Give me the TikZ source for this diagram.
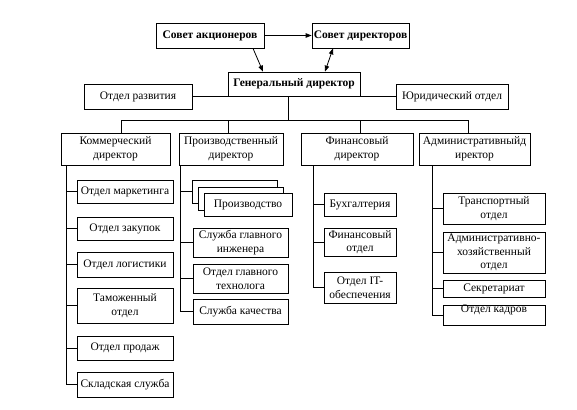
\documentclass[tikz,border=0pt]{standalone}
\usepackage{fontspec}
\setmainfont{Liberation Serif}
\usetikzlibrary{arrows.meta,calc}
\begin{document}
\begin{tikzpicture}[x=1pt,y=-1pt, line width=0.8pt,
 box/.style={draw,fill=white,inner sep=0pt,align=center,font=\fontsize{11.5}{13.5}\selectfont},
 bbox/.style={box,font=\fontsize{11.5}{13.5}\selectfont\bfseries},
 arr/.style={-{Triangle[length=6pt,width=4.5pt]}},
 darr/.style={{Triangle[length=6pt,width=4.5pt]}-{Triangle[length=6pt,width=4.5pt]}}
]
\fill[white] (0,0) rectangle (577,409);
\useasboundingbox (0,0) rectangle (577,409);

% top level
\node[bbox,minimum width=108pt,minimum height=25pt] (sa) at (210,35.5) {Совет акционеров};
\node[bbox,minimum width=97pt,minimum height=25pt] (sd) at (360.5,35.5) {Совет директоров};
\node[bbox,minimum width=132pt,minimum height=24pt] (gd) at (294,84) {Генеральный директор};
\node[box,minimum width=108pt,minimum height=25pt] (razv) at (138,96.5) {Отдел развития};
\node[box,minimum width=112pt,minimum height=25pt] (yur) at (452,96.5) {Юридический отдел};

\draw[arr] (sa.east) -- (sd.west);
\draw[arr] ([xshift=43pt]sa.south) -- ([xshift=-31pt]gd.north);
\draw[darr] ([xshift=-27.5pt]sd.south) -- ([xshift=31pt]gd.north);
\draw (razv.east) -- (yur.west);

% directors
\node[box,minimum width=109pt,minimum height=32pt] (kom) at (115.5,149) {Коммерческий\\директор};
\node[box,minimum width=104pt,minimum height=32pt] (pro) at (231,149) {Производственный\\директор};
\node[box,minimum width=112pt,minimum height=32pt] (fin) at (357,149) {Финансовый\\директор};
\node[box,minimum width=111pt,minimum height=32pt] (adm) at (474.5,149) {Административныйд\\иректор};

\coordinate (bus) at (288,120);
\coordinate (bk) at (121,120);
\coordinate (bp) at (228,120);
\coordinate (bf) at (360,120);
\coordinate (ba) at (468,120);
\draw (gd.south -| bus) -- (bus);
\draw (bk) -- (ba);
\draw (bk) -- (bk |- kom.north);
\draw (bp) -- (bp |- pro.north);
\draw (bf) -- (bf |- fin.north);
\draw (ba) -- (ba |- adm.north);

% commercial
\node[box,minimum width=96pt,minimum height=23pt] (mark) at (125,191.5) {Отдел маркетинга};
\node[box,minimum width=96pt,minimum height=23pt] (zak) at (125,228.5) {Отдел закупок};
\node[box,minimum width=96pt,minimum height=25pt] (log) at (125,264.5) {Отдел логистики};
\node[box,minimum width=96pt,minimum height=35pt] (tam) at (125,305.5) {Таможенный\\отдел};
\node[box,minimum width=96pt,minimum height=24pt] (prd) at (125,348) {Отдел продаж};
\node[box,minimum width=96pt,minimum height=25pt] (skl) at (125,384.5) {Складская служба};
\coordinate (kv) at (66,165);
\draw (kv) -- (kv |- skl.west);
\foreach \n in {mark,zak,log,tam,prd,skl} \draw (kv |- \n.west) -- (\n.west);

% production
\draw[fill=white] (192,180) rectangle (277,203) coordinate (pbse);
\node[draw,fill=white,inner sep=0pt,minimum width=85pt,minimum height=23pt] (pb) at (234.5,191.5) {};
\node[draw,fill=white,inner sep=0pt,minimum width=85pt,minimum height=23pt] (pm) at (240.5,198.5) {};
\node[box,minimum width=88pt,minimum height=23pt] (pf) at (248,204.5) {Производство};
\node[box,minimum width=95pt,minimum height=29pt] (sgi) at (240.5,242.5) {Служба главного\\инженера};
\node[box,minimum width=95pt,minimum height=29pt] (ogt) at (240.5,278.5) {Отдел главного\\технолога};
\node[box,minimum width=95pt,minimum height=25pt] (skc) at (240.5,311.5) {Служба качества};
\coordinate (pv) at (180,165);
\draw (pv) -- (pv |- skc.west);
\foreach \n in {pb,sgi,ogt,skc} \draw (pv |- \n.west) -- (\n.west);

% finance
\node[box,minimum width=72pt,minimum height=23pt] (buh) at (360,204.5) {Бухгалтерия};
\node[box,minimum width=72pt,minimum height=28pt] (fo) at (360,242) {Финансовый\\отдел};
\node[box,minimum width=72pt,minimum height=31pt] (it) at (360,287.5) {Отдел IT-\\обеспечения};
\coordinate (fv) at (313,165);
\draw (fv) -- (fv |- it.west);
\foreach \n in {buh,fo,it} \draw (fv |- \n.west) -- (\n.west);

% administrative
\node[box,minimum width=102pt,minimum height=31pt] (tr) at (494,208.5) {Транспортный\\отдел};
\node[box,minimum width=102pt,minimum height=41pt] (aho) at (494,252.5) {Административно-\\хозяйственный\\отдел};
\node[box,minimum width=102pt,minimum height=17pt] (sec) at (494,288.5) {Секретариат};
\node[box,minimum width=102pt,minimum height=20pt,text height=6pt,text depth=12pt] (kad) at (494,315) {Отдел кадров};
\coordinate (av) at (432,165);
\draw (av) -- (av |- kad.west);
\foreach \n in {tr,aho,sec,kad} \draw (av |- \n.west) -- (\n.west);
\end{tikzpicture}
\end{document}
